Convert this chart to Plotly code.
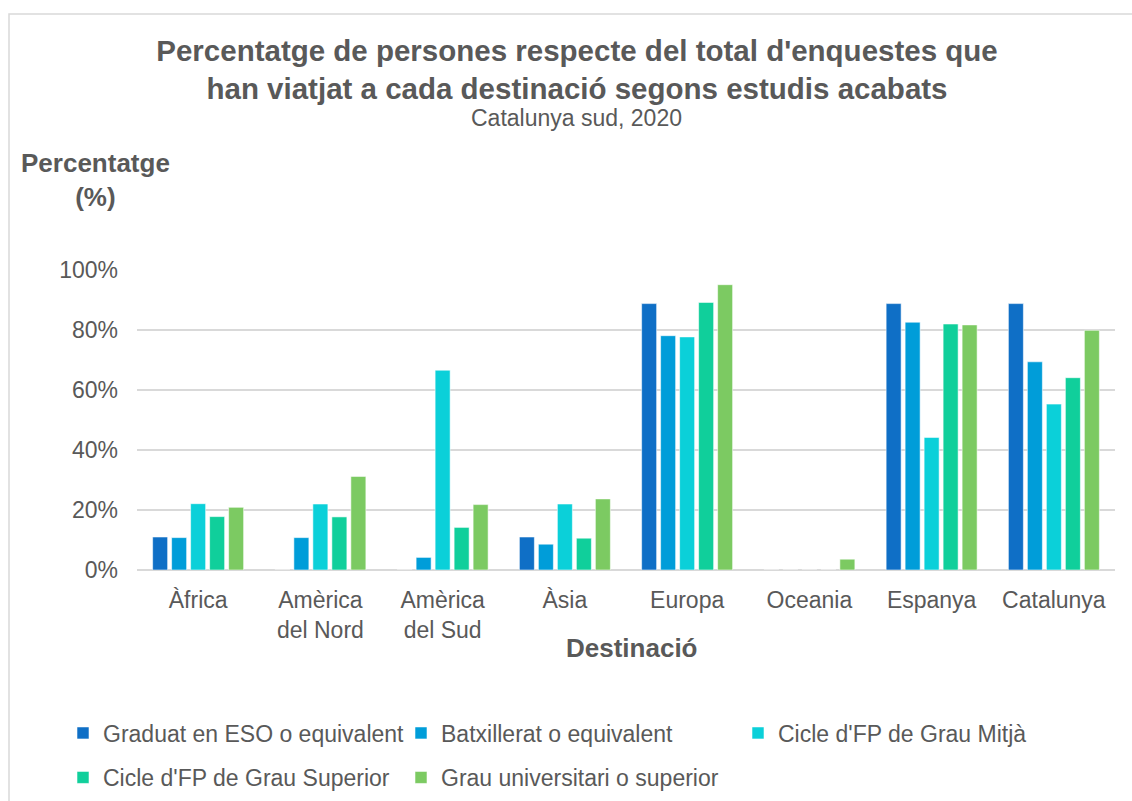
import plotly.graph_objects as go

categories = ["Àfrica", "Amèrica<br>del Nord", "Amèrica<br>del Sud", "Àsia",
              "Europa", "Oceania", "Espanya", "Catalunya"]

series_names = ["Graduat en ESO o equivalent", "Batxillerat o equivalent",
                "Cicle d'FP de Grau Mitjà", "Cicle d'FP de Grau Superior",
                "Grau universitari o superior"]

eso = [11.0, 0, 0, 11.0, 88.8, 0, 88.8, 88.8]
batx = [10.8, 10.8, 4.2, 8.6, 78.1, 0, 82.6, 69.4]
mitja = [22.1, 22.0, 66.6, 22.0, 77.7, 0, 44.2, 55.3]
superior = [17.8, 17.7, 14.2, 10.6, 89.2, 0, 82.0, 64.1]
univ = [20.9, 31.2, 21.8, 23.7, 95.1, 3.6, 81.7, 79.9]

series_values = [eso, batx, mitja, superior, univ]
colors = ["#0F6FC6", "#009DD9", "#0BD0D9", "#10CF9B", "#7CCA62"]

y_ticks = [0, 20, 40, 60, 80, 100]
y_tick_labels = ["0%", "20%", "40%", "60%", "80%", "100%"]

FONT = "Arial, 'Liberation Sans', sans-serif"
TXT = "#595959"

W, H = 1132, 801
L, R, T, B = 137, 1115, 270, 570


def px_x(px):
    return (px - L) / (R - L)


def px_y(py):
    return (B - py) / (B - T)


# which legend box each series goes to (row 1: three items, row 2: two items)
legend_of = ["legend", "legend", "legend3", "legend2", "legend2"]

fig = go.Figure()
for name, vals, col, lg in zip(series_names, series_values, colors, legend_of):
    fig.add_trace(go.Bar(
        name=name, x=categories, y=vals,
        marker=dict(color=col, line=dict(color="rgba(255,255,255,0.55)", width=1)),
        legend=lg,
        hovertemplate="%{y:.1f}%<extra>" + name + "</extra>",
    ))

legend_common = dict(
    orientation="h", xref="container", xanchor="left",
    yref="paper", yanchor="middle",
    entrywidth=293, entrywidthmode="pixels",
    font=dict(size=23, color=TXT), bgcolor="rgba(0,0,0,0)",
    traceorder="normal",
)

fig.update_layout(
    width=W, height=H,
    margin=dict(l=L, r=W - R, t=T, b=H - B, autoexpand=False),
    paper_bgcolor="white", plot_bgcolor="white",
    font=dict(family=FONT, color=TXT, size=23),
    barmode="group", bargap=0.223, bargroupgap=0.21,
    title=dict(
        text="<b>Percentatge de persones respecte del total d'enquestes que<br>"
             "han viatjat a cada destinació segons estudis acabats</b>",
        x=577 / W, xref="container", xanchor="center",
        y=1 - 61 / H, yref="container", yanchor="middle",
        font=dict(size=29.5, color=TXT, family=FONT),
    ),
    xaxis=dict(
        showgrid=False, showline=False, zeroline=False, ticks="",
        ticklabelstandoff=14,
        tickfont=dict(size=23, color=TXT),
    ),
    yaxis=dict(
        range=[0, 100], tickvals=y_ticks, ticktext=y_tick_labels,
        showgrid=True, gridcolor="#D9D9D9", gridwidth=1.5,
        zeroline=True, zerolinecolor="#D9D9D9", zerolinewidth=1.5,
        showline=False, ticks="", ticklabelstandoff=18,
        tickfont=dict(size=23, color=TXT),
    ),
    legend=dict(legend_common, x=63 / W, y=px_y(733)),
    legend3=dict(legend_common, x=738 / W, y=px_y(733)),
    legend2=dict(legend_common, x=63 / W, y=px_y(777.5)),
    shapes=[dict(
        type="rect", xref="paper", yref="paper",
        x0=px_x(9), x1=px_x(1180), y0=px_y(860), y1=px_y(14),
        line=dict(color="#D9D9D9", width=1.5), fillcolor="rgba(0,0,0,0)",
        layer="below",
    )],
    annotations=[
        dict(text="Catalunya sud, 2020", xref="paper", yref="paper",
             x=px_x(576), y=px_y(118), xanchor="center", yanchor="middle",
             showarrow=False, font=dict(size=23, color=TXT)),
        dict(text="<b>Percentatge</b><br><b>(%)</b>", xref="paper", yref="paper",
             x=px_x(95), y=px_y(180), xanchor="center", yanchor="middle",
             showarrow=False, font=dict(size=26, color=TXT)),
        dict(text="<b>Destinació</b>", xref="paper", yref="paper",
             x=px_x(631.5), y=px_y(648), xanchor="center", yanchor="middle",
             showarrow=False, font=dict(size=26, color=TXT)),
    ],
)

fig.write_html("out.html")
